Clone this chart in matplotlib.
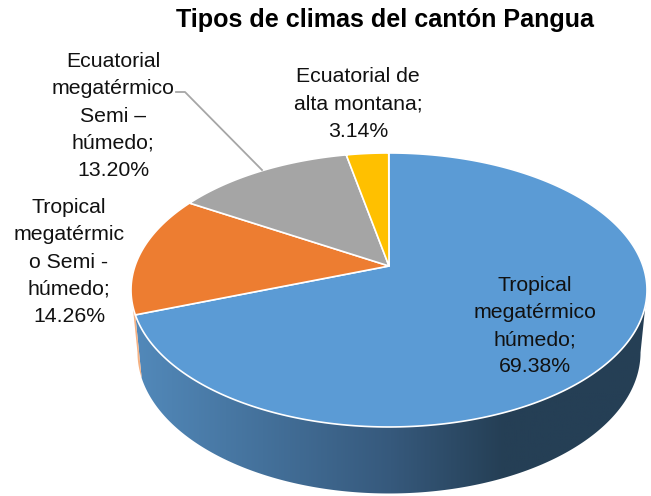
import numpy as np
import matplotlib
matplotlib.use('Agg')
import matplotlib.pyplot as plt
from matplotlib.colors import LinearSegmentedColormap
from matplotlib.patches import Polygon

plt.rcParams['font.family'] = ['Liberation Sans', 'DejaVu Sans']

# chart values
labels = ['Tropical\nmegatérmico\nhúmedo;\n69.38%',
          'Tropical\nmegatérmic\no Semi -\nhúmedo;\n14.26%',
          'Ecuatorial\nmegatérmico\nSemi –\nhúmedo;\n13.20%',
          'Ecuatorial de\nalta montana;\n3.14%']
values = [69.38, 14.26, 13.20, 3.14]
colors = ['#5B9BD5', '#ED7D31', '#A5A5A5', '#FFC000']
label_pos = [(535, 326), (69, 262), (113, 116), (358, 104)]

# apex of the pie on the canvas and the tilt of the disc
cx, cy = 389, 266
ax_x, ax_y, tilt = 254, 132.8, 0.175


def top(theta):
    # theta in degrees, clockwise from 12 o'clock
    t = np.radians(theta)
    d = 1 + tilt * np.cos(t)
    return cx + ax_x * np.sin(t) / d, cy - ax_y * np.cos(t) / d


def bottom(theta):
    x, y = top(theta)
    return cx + (x - cx) * 0.975, y + 63 + (y - 310) * 0.03


fig = plt.figure(figsize=(6.51, 4.96), dpi=100)
ax = fig.add_axes([0, 0, 1, 1])
ax.set_xlim(0, 651)
ax.set_ylim(496, 0)
ax.axis('off')

angles = np.cumsum([0] + values) * 3.6

# side wall, blue part with its gradient
th = np.linspace(100.1, angles[1], 200)
side = np.r_[np.c_[top(th)], np.c_[bottom(th)][::-1]]
cmap = LinearSegmentedColormap.from_list(
    'side', [(0, '#5289BA'), (0.5, '#36597C'), (0.72, '#253F55'), (1, '#253F55')])
img = ax.imshow(np.linspace(0, 1, 256)[None, :], cmap=cmap, aspect='auto',
                extent=[134, 648, 496, 290], zorder=1)
clip = Polygon(side, closed=True, transform=ax.transData, fc='none', ec='none')
ax.add_patch(clip)
img.set_clip_path(clip)
ax.set_xlim(0, 651)
ax.set_ylim(496, 0)

# thin orange sliver of the side wall
th = np.linspace(angles[1], 259.9, 30)
ax.fill(*np.r_[np.c_[top(th)], np.c_[bottom(th)][::-1]].T, color='#F4B183', lw=0, zorder=1)

# top face
for a0, a1, c in zip(angles[:-1], angles[1:], colors):
    th = np.linspace(a0, a1, 300)
    x, y = top(th)
    ax.fill(np.r_[cx, x], np.r_[cy, y], facecolor=c, edgecolor='white', lw=1.2,
            joinstyle='round', zorder=2)

for lab, (x, y) in zip(labels, label_pos):
    ax.text(x, y, lab, ha='center', va='center', fontsize=15.3, color='#111111',
            linespacing=1.55, zorder=4)

# leader line of the grey slice
ax.plot([176, 185, 262], [92, 92, 170], color='#A6A6A6', lw=1.3, zorder=3)

ax.text(385, 20, 'Tipos de climas del cantón Pangua', ha='center', va='center',
        fontsize=18.1, fontweight='bold', color='black')

fig.savefig('out.png', dpi=100)
